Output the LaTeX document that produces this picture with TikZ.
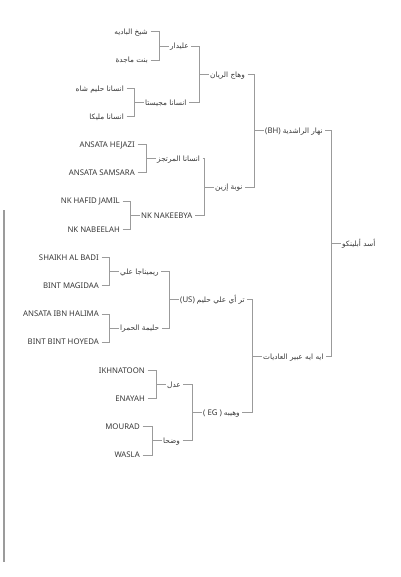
\documentclass[tikz,border=0pt]{standalone}
\usepackage{fontspec}
\setmainfont{Noto Sans}
\newfontfamily\arabicfont[Script=Arabic,Scale=0.94]{DejaVu Sans}
\TeXXeTstate=1
\newcommand{\arb}[1]{{\arabicfont\beginR #1\endR}}
\definecolor{txtgray}{RGB}{55,55,55}
\definecolor{linegray}{RGB}{155,155,155}
\tikzset{
  horse/.style={inner sep=0pt, text height=5.5pt, text depth=0pt, text=txtgray,
    font=\fontsize{7.8}{9}\selectfont},
  sire/.style={horse, anchor=west},
  leaf/.style={horse, anchor=east},
  link/.style={draw=linegray, line width=1pt}
}

\begin{document}
\begin{tikzpicture}[x=1pt,y=-1pt]
\useasboundingbox (0,0) rectangle (400,577);
% root and generations 2-4
\node[sire] (asad) at (342,243.5) {\arb{أسد أبلينكو}};
\node[sire] (nahar) at (265,130.7) {(BH) \arb{نهار الراشدية}};
\node[sire] (aya) at (263,356.3) {\arb{ايه ايه عبير العاديات}};
\node[sire] (wahaj) at (210,74.3) {\arb{وهاج الريان}};
\node[sire] (nouba) at (215,187.1) {\arb{نوبة إزين}};
\node[sire] (trali) at (180,299.9) {(US) \arb{تر أي علي حليم}};
\node[sire] (wahiba) at (203,412.7) {( EG ) \arb{وهيبه}};
\node[sire] (alidar) at (170,46.1) {\arb{عليدار}};
\node[sire] (majesta) at (145,102.5) {\arb{انسانا مجيستا}};
\node[sire] (murtajiz) at (157,158.9) {\arb{انسانا المرتجز}};
\node[sire] (nakeebya) at (141,215.3) {NK NAKEEBYA};
\node[sire] (rimenaja) at (120,271.7) {\arb{ريميناجا علي}};
\node[sire] (halima) at (120,328.1) {\arb{حليمة الحمرا}};
\node[sire] (adl) at (167,384.5) {\arb{عدل}};
\node[sire] (wadha) at (163,440.9) {\arb{وضحا}};
% last generation
\node[leaf] (shaikhb) at (148,32) {\arb{شيخ الباديه}};
\node[leaf] (bintm) at (148,60.2) {\arb{بنت ماجدة}};
\node[leaf] (halimshah) at (124,88.4) {\arb{انسانا حليم شاه}};
\node[leaf] (malika) at (124,116.6) {\arb{انسانا مليكا}};
\node[leaf] (hejazi) at (135,144.8) {ANSATA HEJAZI};
\node[leaf] (samsara) at (135,173) {ANSATA SAMSARA};
\node[leaf] (hafid) at (120,201.2) {NK HAFID JAMIL};
\node[leaf] (nabeelah) at (120,229.4) {NK NABEELAH};
\node[leaf] (shaikh) at (99,257.6) {SHAIKH AL BADI};
\node[leaf] (magidaa) at (99,285.8) {BINT MAGIDAA};
\node[leaf] (ibnhalima) at (99,314) {ANSATA IBN HALIMA};
\node[leaf] (hoyeda) at (99,342.2) {BINT BINT HOYEDA};
\node[leaf] (ikhnatoon) at (145,370.4) {IKHNATOON};
\node[leaf] (enayah) at (145,398.6) {ENAYAH};
\node[leaf] (mourad) at (140,426.8) {MOURAD};
\node[leaf] (wasla) at (140,455) {WASLA};
% brackets
\foreach \c/\p in {nahar/asad, aya/asad, wahaj/nahar, nouba/nahar, trali/aya, wahiba/aya,
  alidar/wahaj, majesta/wahaj, murtajiz/nouba, nakeebya/nouba,
  rimenaja/trali, halima/trali, adl/wahiba, wadha/wahiba,
  shaikhb/alidar, bintm/alidar, halimshah/majesta, malika/majesta,
  hejazi/murtajiz, samsara/murtajiz, hafid/nakeebya, nabeelah/nakeebya,
  shaikh/rimenaja, magidaa/rimenaja, ibnhalima/halima, hoyeda/halima,
  ikhnatoon/adl, enayah/adl, mourad/wadha, wasla/wadha}
  \draw[link] ([xshift=2.5pt]\c.east) -| ([xshift=-10.5pt]\p.west) -- ([xshift=-1.5pt]\p.west);
% left bar
\coordinate (bartop) at (4,210);
\coordinate (barbot) at (4,562);
\draw[linegray, line width=2pt] (bartop) -- (barbot);
\end{tikzpicture}
\end{document}
